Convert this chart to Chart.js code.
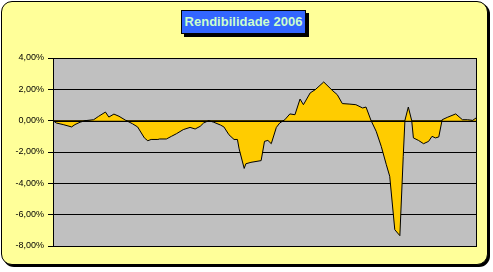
<!DOCTYPE html>
<html>
<head>
<meta charset="utf-8">
<script src="https://cdn.jsdelivr.net/npm/chart.js@4/dist/chart.umd.min.js"></script>
<style>
  html, body { margin: 0; padding: 0; background: #fff; }
  #wrap { position: relative; width: 493px; height: 272px; overflow: hidden; }
  #frame {
    position: absolute; left: 1px; top: 1px; width: 487px; height: 264px;
    box-sizing: border-box; background: #FFFF99; border: 1px solid #000;
    border-radius: 11px; box-shadow: 2px 2px 0 #000;
  }
  #title {
    position: absolute; left: 181px; top: 10px; width: 125px; height: 24px;
    box-sizing: border-box; background: #3366FF; border: 1px solid #000;
    box-shadow: 3px 3px 0 #000; color: #CCFFCC;
    font: bold 13px "Liberation Sans", Arial, sans-serif;
    text-align: center; line-height: 22px;
  }
  canvas { position: absolute; left: 0; top: 0; }
</style>
</head>
<body>
<div id="wrap">
  <div id="frame"></div>
  <div id="title">Rendibilidade 2006</div>
  <canvas id="chart" width="493" height="272"></canvas>
</div>
<script>
// trading-day index within 2006 and daily return (%)
const days = [0, 2, 6, 11, 13, 16, 19, 24, 27, 31, 33, 36, 39, 43, 47, 50, 54, 56, 58, 62, 63, 67, 70, 73, 77, 81, 84, 87, 89, 92,
  95, 99, 101, 104, 107, 109, 110, 113, 114, 117, 123, 125, 127, 129, 132, 134, 137, 140, 143, 146, 148, 152, 155, 160,
  165, 168, 171, 175, 179, 183, 185, 188, 191, 194, 197, 199, 202, 205, 207, 208, 210, 212, 213, 216, 219, 222, 224,
  226, 228, 230, 233, 238, 242, 245, 248, 250];
const returns = [0, -0.15, -0.25, -0.4, -0.25, -0.1, 0, 0.06, 0.28, 0.55, 0.23, 0.42, 0.28, 0.02, -0.2, -0.4, -1.1, -1.28, -1.2, -1.2, -1.17, -1.17, -1.0, -0.83, -0.57, -0.43, -0.53, -0.36, -0.15, 0,
  -0.1, -0.28, -0.4, -0.9, -1.2, -1.2, -1.8, -3.05, -2.75, -2.66, -2.55, -1.32, -1.26, -1.47, -0.43, -0.15, 0.06, 0.43, 0.38, 1.38, 1.02, 1.77, 1.98, 2.47,
  1.94, 1.66, 1.09, 1.06, 1.02, 0.81, 0.87, 0, -0.68, -1.64, -2.81, -3.55, -6.96, -7.34, -2.28, 0.02, 0.87, 0, -1.1, -1.26, -1.47, -1.32, -1.0,
  -1.1, -1.04, 0.06, 0.21, 0.43, 0.06, 0.06, 0.02, 0.17];
const yTicks = [4, 2, 0, -2, -4, -6, -8];

const plotFrame = {
  id: 'plotFrame',
  beforeDraw(chart) {
    const { ctx, chartArea: a } = chart;
    ctx.save();
    ctx.fillStyle = '#C0C0C0';
    ctx.fillRect(a.left, a.top, a.right - a.left, a.bottom - a.top);
    ctx.restore();
  },
  afterDatasetsDraw(chart) {
    const { ctx, chartArea: a, scales } = chart;
    const y0 = Math.round(scales.y.getPixelForValue(0)) + 0.5;
    ctx.save();
    ctx.strokeStyle = '#000';
    ctx.lineWidth = 1;
    ctx.beginPath();
    ctx.moveTo(a.left, y0);
    ctx.lineTo(a.right, y0);
    ctx.stroke();
    ctx.strokeRect(Math.round(a.left) + 0.5, Math.round(a.top) + 0.5,
      Math.round(a.right - a.left), Math.round(a.bottom - a.top));
    ctx.restore();
  }
};

new Chart(document.getElementById('chart'), {
  type: 'line',
  data: {
    datasets: [{
      data: days.map((d, i) => ({ x: d, y: returns[i] })),
      borderColor: '#000',
      borderWidth: 1,
      backgroundColor: '#FFCC00',
      fill: 'origin',
      tension: 0,
      pointRadius: 0
    }]
  },
  options: {
    responsive: false,
    animation: false,
    events: [],
    layout: { padding: { left: 0, right: 17, top: 58, bottom: 26 } },
    plugins: { legend: { display: false }, tooltip: { enabled: false } },
    scales: {
      x: { type: 'linear', min: 0, max: 250, display: false },
      y: {
        min: -8, max: 4,
        afterFit(scale) { scale.width = 53; },
        afterBuildTicks(scale) { scale.ticks = yTicks.map(v => ({ value: v })); },
        grid: { color: '#000', lineWidth: 1, tickLength: 5, drawTicks: true },
        border: { display: false },
        ticks: {
          padding: 4,
          color: '#000',
          font: { family: '"Liberation Sans", Arial, sans-serif', size: 9 },
          callback: v => v.toFixed(2).replace('.', ',') + '%'
        }
      }
    }
  },
  plugins: [plotFrame]
});
</script>
</body>
</html>
